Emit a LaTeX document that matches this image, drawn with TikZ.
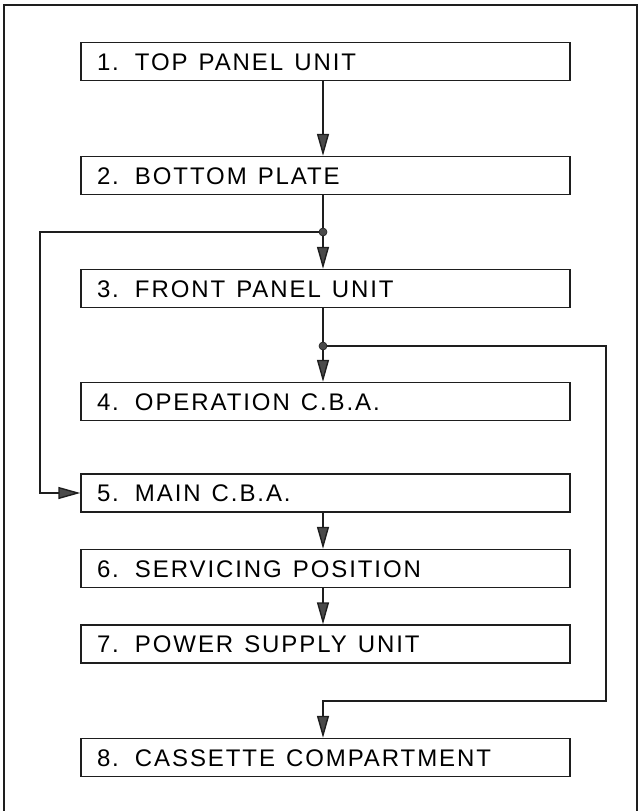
\documentclass[tikz,border=0pt]{standalone}
\usepackage{fontspec}
\setmainfont{Liberation Sans}
\newfontfamily\lblfont[LetterSpace=8]{Liberation Sans}
\usetikzlibrary{arrows.meta}
\definecolor{ink}{HTML}{1E1E1E}
\definecolor{headgray}{HTML}{4A4A4A}
\newcommand{\widespaces}{\spaceskip=11pt\relax}
\tikzset{
  box/.style={draw=ink, line width=1.4pt, minimum width=489pt, minimum height=38pt,
    text width=457pt, align=left, inner xsep=16pt, inner ysep=0pt,
    font=\lblfont\fontsize{24pt}{26pt}\selectfont, text height=17pt, text depth=0pt,
    execute at begin node=\widespaces},
  conn/.style={draw=ink, line width=1.4pt},
  arr/.style={conn, -{Triangle[length=22pt,width=12pt,fill=headgray]}},
  joint/.style={circle, fill=headgray, draw=ink, line width=0.6pt, inner sep=0pt, minimum size=8pt},
  frame/.style={draw=ink, line width=1.8pt}
}
\newcommand{\gap}{\hspace{16pt}}
\begin{document}
\begin{tikzpicture}[x=1pt,y=-1pt]
\useasboundingbox (0,0) rectangle (640,811);
\draw[frame] (4,811) -- (4,5) -- (637,5) -- (637,811);

\coordinate (cx) at (323,0);
\node[box] (b1) at (325.5,61.5) {1.\gap TOP PANEL UNIT};
\node[box] (b2) at (325.5,175.5) {2.\gap BOTTOM PLATE};
\node[box] (b3) at (325.5,288.5) {3.\gap FRONT PANEL UNIT};
\node[box] (b4) at (325.5,401.5) {4.\gap OPERATION C.B.A.};
\node[box] (b5) at (325.5,493) {5.\gap MAIN C.B.A.};
\node[box] (b6) at (325.5,568.5) {6.\gap SERVICING POSITION};
\node[box] (b7) at (325.5,644) {7.\gap POWER SUPPLY UNIT};
\node[box] (b8) at (325.5,757.5) {8.\gap CASSETTE COMPARTMENT};

\coordinate (l1) at (40,232);
\coordinate (l2) at (40,493);
\coordinate (r1) at (606,346);
\coordinate (r2) at (606,701);
\coordinate (r3) at (323,701);

\draw[arr] (b1.south -| cx) -- (b2.north -| cx);
\draw[conn] (b2.south -| cx) -- (323,232) coordinate (j1);
\draw[arr] (j1) -- (b3.north -| cx);
\draw[arr] (j1) -- (l1) -- (l2) -- (b5.west);
\draw[conn] (b3.south -| cx) -- (323,346) coordinate (j2);
\draw[arr] (j2) -- (b4.north -| cx);
\draw[arr] (j2) -- (r1) -- (r2) -- (r3) -- (b8.north -| cx);
\draw[arr] (b5.south -| cx) -- (b6.north -| cx);
\draw[arr] (b6.south -| cx) -- (b7.north -| cx);

\node[joint] (n1) at (j1) {};
\node[joint] (n2) at (j2) {};
\end{tikzpicture}
\end{document}
